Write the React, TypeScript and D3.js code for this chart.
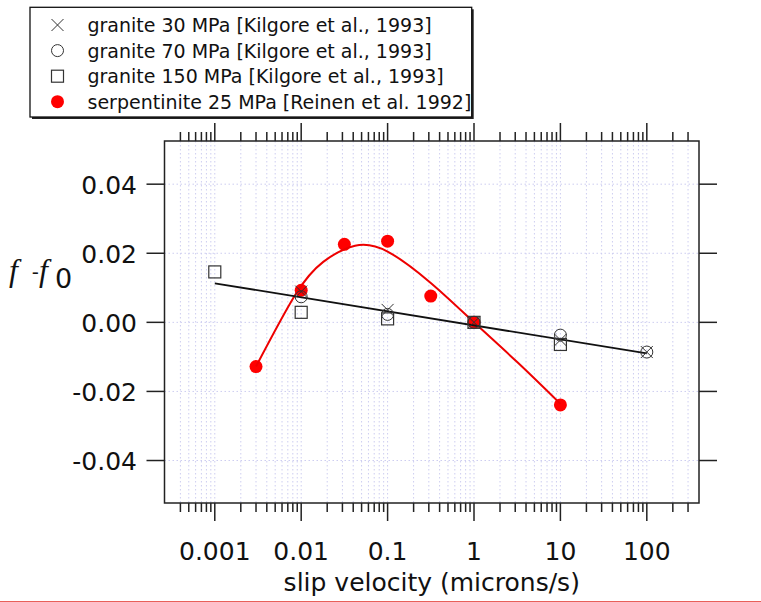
import React from "react";
import * as d3 from "d3";

// Slip velocities (microns/s) and friction change f - f0 for each data set
const granite30V = [0.01, 0.1, 1, 10, 100];
const granite30F = [0.0089, 0.0036, 0, -0.0051, -0.0086];

const granite70V = [0.01, 0.1, 1, 10, 100];
const granite70F = [0.0074, 0.0023, 0, -0.0037, -0.0086];

const granite150V = [0.001, 0.01, 0.1, 1, 10];
const granite150F = [0.0146, 0.0029, 0.001, 0, -0.0064];

const serpV = [0.003, 0.01, 0.0316, 0.1, 0.316, 1, 10];
const serpF = [-0.0128, 0.0093, 0.0226, 0.0235, 0.0076, 0, -0.0239];

// Granite log-linear fit (end points)
const graniteFitV = [0.001, 100];
const graniteFitF = [0.0113, -0.009];

// Serpentinite fitted curve (sampled)
const serpFitV = [0.003, 0.00851, 0.018, 0.042, 0.1, 0.316, 1, 3.16, 10];
const serpFitF = [-0.0128, 0.0079, 0.0175, 0.0222, 0.0205, 0.0114, 0, -0.0115, -0.0236];

const xMajorTicks = [0.001, 0.01, 0.1, 1, 10, 100];
const xMajorLabels = ["0.001", "0.01", "0.1", "1", "10", "100"];
const yTicks = [0.04, 0.02, 0, -0.02, -0.04];
const yTickLabels = ["0.04", "0.02", "0.00", "-0.02", "-0.04"];

const legendLabels = [
  "granite 30 MPa [Kilgore et al., 1993]",
  "granite 70 MPa [Kilgore et al., 1993]",
  "granite 150 MPa [Kilgore et al., 1993]",
  "serpentinite 25 MPa [Reinen et al. 1992]",
];

const W = 761;
const H = 602;
const L = 164.5;
const R = 699;
const T = 141;
const B = 503;

const SANS = "'DejaVu Sans', sans-serif";
const SERIF = "'Liberation Serif', 'Times New Roman', serif";
const GRID = "#cdcdf0";
const MARK = "#333";

const x = d3.scaleLog().domain([Math.pow(10, -3.582), Math.pow(10, 2.604)]).range([L, R]);
const y = d3.scaleLinear().domain([-0.0523, 0.0525]).range([B, T]);

// minor ticks 2..9 per decade inside the frame
const minorTicks: number[] = [];
for (let e = -4; e <= 2; e++) {
  for (let m = 2; m <= 9; m++) {
    const v = m * Math.pow(10, e);
    if (v >= 0.0004 && v <= 300) minorTicks.push(v);
  }
}
const gridX = [...minorTicks, ...xMajorTicks];

const Cross = ({ cx, cy, s = 6 }: { cx: number; cy: number; s?: number }) => (
  <g stroke={MARK} strokeWidth={1}>
    <line x1={cx - s} y1={cy - s} x2={cx + s} y2={cy + s} />
    <line x1={cx - s} y1={cy + s} x2={cx + s} y2={cy - s} />
  </g>
);
const Circ = ({ cx, cy }: { cx: number; cy: number }) => (
  <circle cx={cx} cy={cy} r={6} fill="none" stroke={MARK} strokeWidth={1} />
);
const Sq = ({ cx, cy }: { cx: number; cy: number }) => (
  <rect x={cx - 6} y={cy - 6} width={12} height={12} fill="none" stroke={MARK} strokeWidth={1.2} />
);
const Dot = ({ cx, cy }: { cx: number; cy: number }) => (
  <circle cx={cx} cy={cy} r={6.5} fill="#ff0000" />
);

export default function App() {
  const fitLine = d3
    .line<number>()
    .x((_, i) => x(graniteFitV[i]))
    .y((_, i) => y(graniteFitF[i]))(graniteFitV);
  const serpLine = d3
    .line<number>()
    .x((_, i) => x(serpFitV[i]))
    .y((_, i) => y(serpFitF[i]))
    .curve(d3.curveNatural)(serpFitV);

  const legendRows = [25, 50.6, 76.2, 101.7];

  return (
    <svg
      width={W}
      height={H}
      style={{ position: "absolute", left: 0, top: 0, background: "#fff" }}
    >
      <rect x={0} y={0} width={W} height={H} fill="#fff" />

      {/* grid */}
      <g stroke={GRID} strokeWidth={1} strokeDasharray="1.5,2.5">
        {gridX.map((v, i) => (
          <line key={"gx" + i} x1={x(v)} x2={x(v)} y1={T} y2={B} />
        ))}
        {yTicks.map((v, i) => (
          <line key={"gy" + i} x1={L} x2={R} y1={y(v)} y2={y(v)} />
        ))}
      </g>

      {/* frame */}
      <rect x={L} y={T} width={R - L} height={B - T} fill="none" stroke="#222" strokeWidth={1.5} />

      {/* x ticks bottom & top, y ticks left & right */}
      <g stroke="#222" strokeWidth={1.5}>
        {minorTicks.map((v, i) => (
          <g key={"mt" + i}>
            <line x1={x(v)} x2={x(v)} y1={B} y2={B + 9} />
            <line x1={x(v)} x2={x(v)} y1={T} y2={T - 9} />
          </g>
        ))}
        {xMajorTicks.map((v, i) => (
          <g key={"Mt" + i}>
            <line x1={x(v)} x2={x(v)} y1={B} y2={B + 18} />
            <line x1={x(v)} x2={x(v)} y1={T} y2={T - 18} />
          </g>
        ))}
        {yTicks.map((v, i) => (
          <g key={"yt" + i}>
            <line x1={L - 18} x2={L} y1={y(v)} y2={y(v)} />
            <line x1={R} x2={R + 18} y1={y(v)} y2={y(v)} />
          </g>
        ))}
      </g>

      {/* tick labels */}
      <g style={{ fontFamily: SANS }} fontSize={25} fill="#111">
        {xMajorTicks.map((v, i) => (
          <text key={"xl" + i} x={x(v)} y={560} textAnchor="middle">
            {xMajorLabels[i]}
          </text>
        ))}
        {yTicks.map((v, i) => (
          <text key={"yl" + i} x={137} y={y(v) + 9.5} textAnchor="end">
            {yTickLabels[i]}
          </text>
        ))}
        <text x={(L + R) / 2} y={591} textAnchor="middle">
          slip velocity (microns/s)
        </text>
      </g>

      {/* y axis title: f - f0 */}
      <g fill="#111">
        <text x={9} y={281} style={{ fontFamily: SERIF, fontStyle: "italic", fontSize: "32px" }}>
          f
        </text>
        <text x={32} y={278} style={{ fontFamily: SERIF, fontSize: "20px" }}>
          -
        </text>
        <text x={39} y={281} style={{ fontFamily: SERIF, fontStyle: "italic", fontSize: "32px" }}>
          f
        </text>
        <text x={55} y={288} style={{ fontFamily: SANS, fontSize: "27px" }}>
          0
        </text>
      </g>

      {/* serpentinite data and fit */}
      {serpV.map((v, i) => (
        <Dot key={"sd" + i} cx={x(v)} cy={y(serpF[i])} />
      ))}
      <path d={serpLine || ""} fill="none" stroke="#ee0000" strokeWidth={2} />

      {/* granite fit */}
      <path d={fitLine || ""} fill="none" stroke="#111" strokeWidth={1.8} />

      {/* granite data */}
      {granite150V.map((v, i) => (
        <Sq key={"g150" + i} cx={x(v)} cy={y(granite150F[i])} />
      ))}
      {granite70V.map((v, i) => (
        <Circ key={"g70" + i} cx={x(v)} cy={y(granite70F[i])} />
      ))}
      {granite30V.map((v, i) => (
        <Cross key={"g30" + i} cx={x(v)} cy={y(granite30F[i])} />
      ))}

      {/* legend */}
      <rect x={32} y={9.3} width={441.7} height={109.7} fill="#222" />
      <rect x={30} y={7.3} width={441.7} height={109.7} fill="#fff" stroke="#111" strokeWidth={1.3} />
      <Cross cx={57.5} cy={legendRows[0]} s={6} />
      <Circ cx={57.5} cy={legendRows[1]} />
      <Sq cx={57.5} cy={legendRows[2]} />
      <Dot cx={57.5} cy={legendRows[3]} />
      <g style={{ fontFamily: SANS }} fontSize={19} fill="#111">
        {legendLabels.map((t, i) => (
          <text key={"lg" + i} x={87.5} y={legendRows[i] + 7}>
            {t}
          </text>
        ))}
      </g>

      <line x1={0} x2={W} y1={601.5} y2={601.5} stroke="#e8605a" strokeWidth={1} />
    </svg>
  );
}
